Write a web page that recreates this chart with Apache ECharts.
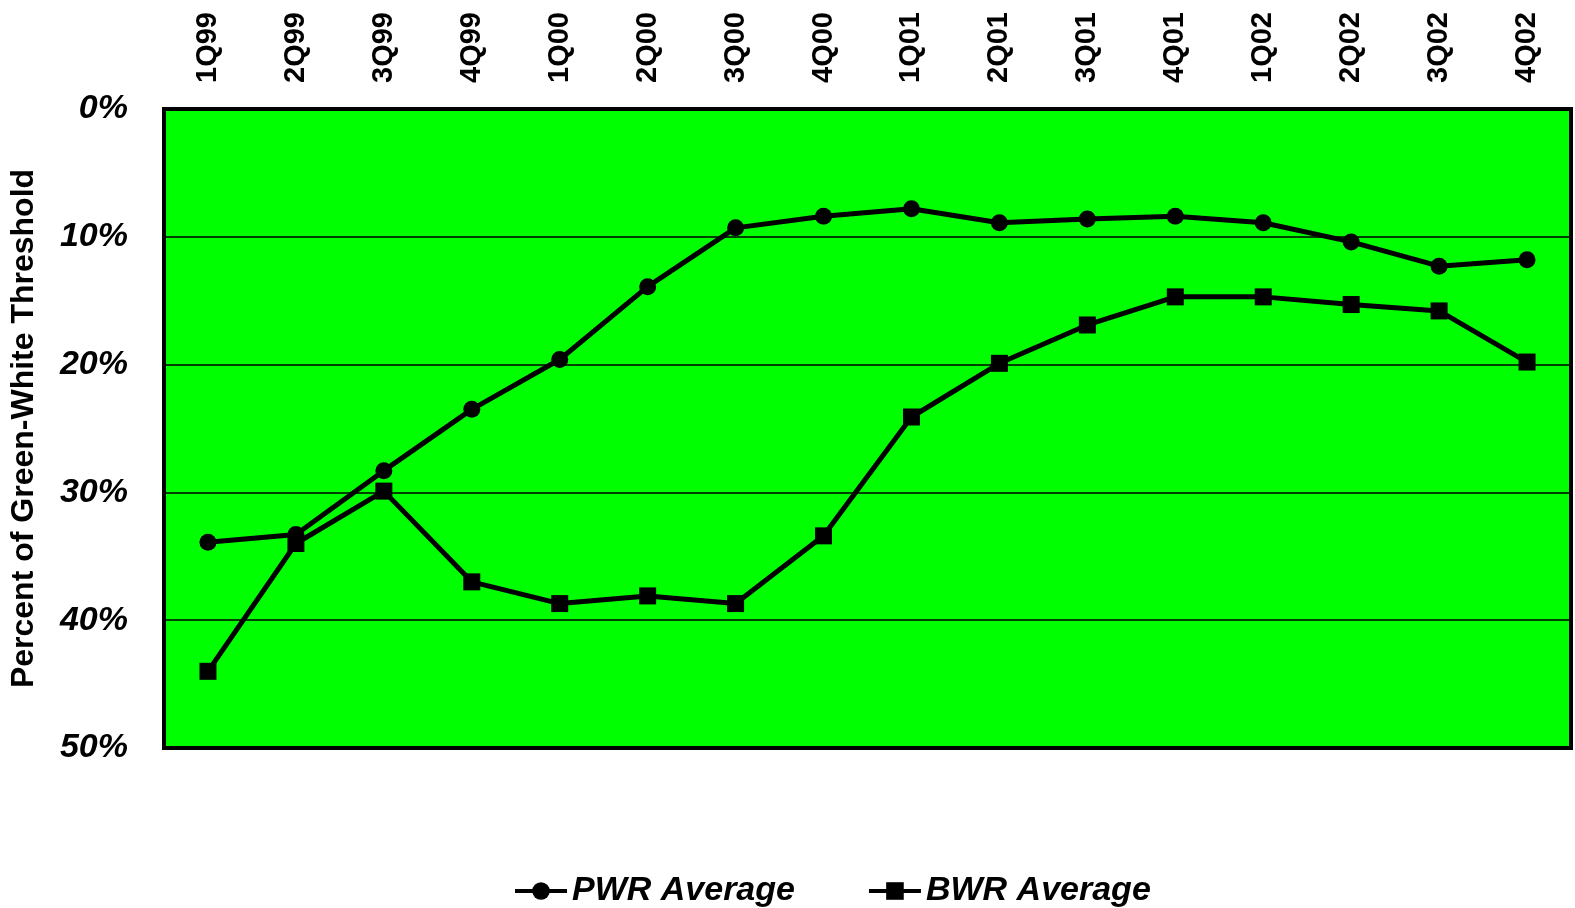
<!DOCTYPE html>
<html>
<head>
<meta charset="utf-8">
<script src="https://cdn.jsdelivr.net/npm/echarts@6/dist/echarts.min.js"></script>
<style>
  html, body { margin: 0; padding: 0; background: #fff; }
  #main { width: 1575px; height: 908px; }
</style>
</head>
<body>
<div id="main"></div>
<script>
  // quarters along the top
  var quarters = ['1Q99', '2Q99', '3Q99', '4Q99', '1Q00', '2Q00', '3Q00', '4Q00',
    '1Q01', '2Q01', '3Q01', '4Q01', '1Q02', '2Q02', '3Q02', '4Q02'];
  // percent of green-white threshold
  var pwrAvg = [33.9, 33.3, 28.3, 23.5, 19.6, 13.9, 9.3, 8.4, 7.8, 8.9, 8.6, 8.4, 8.9, 10.4, 12.3, 11.8];
  var bwrAvg = [44.0, 34.0, 29.9, 37.0, 38.7, 38.1, 38.7, 33.4, 24.1, 19.9, 16.9, 14.7, 14.7, 15.3, 15.8, 19.8];

  var chart = echarts.init(document.getElementById('main'));

  var option = {
    animation: false,
    textStyle: { fontFamily: 'Liberation Sans, Arial, sans-serif' },
    grid: {
      left: 164,
      right: 4,
      top: 109,
      bottom: 160,
      show: true,
      backgroundColor: '#00ff00',
      borderColor: '#000',
      borderWidth: 4
    },
    legend: {
      top: 869,
      left: 508,
      itemGap: 72,
      itemWidth: 52,
      itemHeight: 22,
      lineStyle: { width: 4 },
      textStyle: { fontSize: 34, fontWeight: 'bold', fontStyle: 'italic', color: '#000' },
      data: ['PWR Average', 'BWR Average']
    },
    xAxis: {
      type: 'category',
      position: 'top',
      data: quarters,
      axisLine: { show: false },
      axisTick: { show: false },
      axisLabel: {
        rotate: 90,
        margin: 26,
        fontSize: 29,
        fontWeight: 'bold',
        color: '#000'
      }
    },
    yAxis: {
      type: 'value',
      inverse: true,
      min: 0,
      max: 50,
      interval: 10,
      name: 'Percent of Green-White Threshold',
      nameLocation: 'middle',
      nameGap: 124,
      nameRotate: 90,
      nameTextStyle: { fontSize: 32, fontWeight: 'bold', color: '#000' },
      axisLine: { show: false },
      axisTick: { show: false },
      axisLabel: {
        formatter: '{value}%',
        margin: 36,
        fontSize: 34,
        fontWeight: 'bold',
        fontStyle: 'italic',
        color: '#000'
      },
      splitLine: { lineStyle: { color: '#000', width: 1.5 } }
    },
    series: [
      {
        name: 'PWR Average',
        type: 'line',
        data: pwrAvg,
        symbol: 'circle',
        symbolSize: 17,
        lineStyle: { color: '#000', width: 5 },
        itemStyle: { color: '#000' }
      },
      {
        name: 'BWR Average',
        type: 'line',
        data: bwrAvg,
        symbol: 'rect',
        symbolSize: 17,
        lineStyle: { color: '#000', width: 5 },
        itemStyle: { color: '#000' }
      }
    ]
  };

  chart.setOption(option);
</script>
</body>
</html>
